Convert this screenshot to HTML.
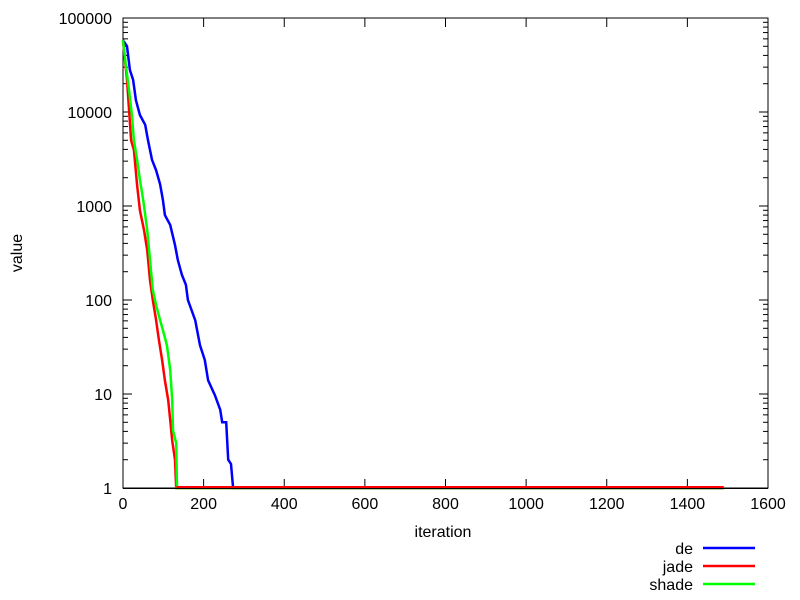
<!DOCTYPE html>
<html><head><meta charset="utf-8"><style>
body{margin:0;background:#fff;}
svg{display:block;font-family:"Liberation Sans",Arial,sans-serif;}
</style></head><body>
<svg id="chart" width="800" height="600"></svg>
<script>
const xTicks=[0,200,400,600,800,1000,1200,1400,1600];
const yTicks=[1,10,100,1000,10000,100000];
const yTickLabels=["1","10","100","1000","10000","100000"];
const seriesNames=["de","jade","shade"];
const deIter=[0,10,17,25,32,42,55,62,72,82,92,99,104,117,129,136,146,156,161,179,191,203,211,228,241,246,256,261,268,273,1490];
const deVal=[58000,50000,28000,22000,13400,9300,7300,5000,3100,2400,1700,1160,800,630,385,267,185,145,100,61,33,23,14,9.7,6.8,5,5,2,1.8,1,1];
const jadeIter=[0,10,20,27,35,42,52,60,67,74,82,89,97,104,112,117,122,129,132,1490];
const jadeVal=[58000,22000,5000,3950,1670,900,556,340,163,100,61,37.5,23,14,8.6,5.3,3.2,2,1,1];
const shadeIter=[0,7,15,22,27,35,42,50,60,67,74,82,92,102,109,117,122,124,132,134,1490];
const shadeVal=[58000,31600,17100,9300,5000,3100,1900,1160,556,267,128,88,61,43,33,18,8.6,4.1,3,1,1];
const colors=["#0000ff","#ff0000","#00ff00"];

const L=123,R=768,T=18,B=488;
const X=v=>L+(v-0)/(1600-0)*(R-L);
const Y=v=>B-(Math.log10(v)-0)/5*(B-T);
const svg=document.getElementById('chart');
const NS="http://www.w3.org/2000/svg";
function mk(tag,attrs,parent){const e=document.createElementNS(NS,tag);for(const k in attrs)e.setAttribute(k,attrs[k]);(parent||svg).appendChild(e);return e;}

const fr=mk('rect',{x:L,y:T,width:R-L,height:B-T,fill:'none',stroke:'#000','stroke-width':1});



const tg=mk('g',{});


xTicks.forEach(t=>{
  const x=X(t);
  mk('line',{x1:x,x2:x,y1:B,y2:B-9,stroke:'#000'},tg);
  mk('line',{x1:x,x2:x,y1:T,y2:T+9,stroke:'#000'},tg);
  const tx=mk('text',{x:x,y:B+21,'text-anchor':'middle','font-size':16},tg);
  tx.textContent=t;
  
  
});
yTicks.forEach((t,i)=>{
  const y=Y(t);
  mk('line',{x1:L,x2:L+9,y1:y,y2:y,stroke:'#000'},tg);
  mk('line',{x1:R,x2:R-9,y1:y,y2:y,stroke:'#000'},tg);
  const tx=mk('text',{x:L-11,y:y+6,'text-anchor':'end','font-size':16},tg);
  tx.textContent=yTickLabels[i];
  
  
  if(i<yTicks.length-1){
    for(let m=2;m<=9;m++){const yy=Y(t*m);
      mk('line',{x1:L,x2:L+5,y1:yy,y2:yy,stroke:'#000'},tg);
      mk('line',{x1:R,x2:R-5,y1:yy,y2:yy,stroke:'#000'},tg);}
  }
});

const iters=[deIter,jadeIter,shadeIter];
const vals=[deVal,jadeVal,shadeVal];
seriesNames.forEach((n,s)=>{
  const pts=iters[s].map((v,i)=>X(v).toFixed(1)+','+Y(vals[s][i]).toFixed(1)).join(' ');
  const pl=mk('polyline',{points:pts,fill:'none',stroke:colors[s],'stroke-width':2.5,'stroke-linejoin':'miter'});
  
  
});
// jade flat tail drawn on top, just above the axis
const jl=jadeIter.length-1;
const tail=mk('line',{x1:X(jadeIter[jl-1]),x2:X(jadeIter[jl]),y1:Y(jadeVal[jl])-1,y2:Y(jadeVal[jl])-1,stroke:colors[1],'stroke-width':2});


mk('line',{x1:L,x2:R,y1:B+0.5,y2:B+0.5,stroke:'#000','stroke-width':1});

const xl=mk('text',{x:443,y:537,'text-anchor':'middle','font-size':16});
xl.textContent='iteration';


const yl=mk('text',{x:22,y:253,'text-anchor':'middle','font-size':16,transform:'rotate(-90 22 253)'});
yl.textContent='value';



seriesNames.forEach((n,s)=>{
  const y=548+s*18;
  const g=mk('g',{});
  
  
  const t=mk('text',{x:693,y:y+6,'text-anchor':'end','font-size':16},g);
  t.textContent=n;
  mk('line',{x1:703,x2:755,y1:y,y2:y,stroke:colors[s],'stroke-width':2.5},g);
});
</script>
</body></html>
